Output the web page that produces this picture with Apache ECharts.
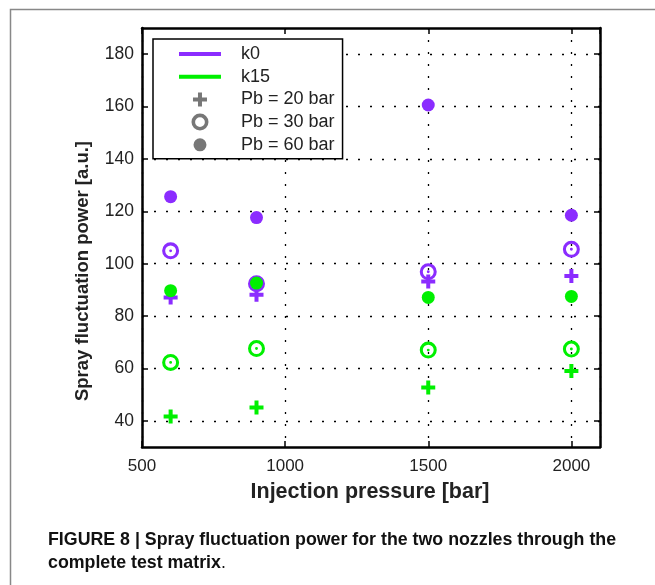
<!DOCTYPE html>
<html>
<head>
<meta charset="utf-8">
<script src="https://cdn.jsdelivr.net/npm/echarts@6/dist/echarts.min.js"></script>
<style>
  html, body { margin: 0; padding: 0; background: #fff; }
  #main { width: 655px; height: 585px; }
</style>
</head>
<body>
<div id="main"></div>
<script>
// injection pressures of the test matrix
var pressures = [600, 900, 1500, 2000]

// nozzle k0
var k0Pb20 = [87.1, 88.1, 93.2, 95.3]
var k0Pb30 = [104.9, 92.3, 96.9, 105.5]
var k0Pb60 = [125.6, 117.6, 160.6, 118.5]

// nozzle k15
var k15Pb20 = [41.6, 45.1, 52.7, 59.0]
var k15Pb30 = [62.3, 67.6, 67.0, 67.4]
var k15Pb60 = [89.7, 92.6, 87.1, 87.5]

var yTicks = [40, 60, 80, 100, 120, 140, 160, 180]

var purple = '#8b2cff'
var green = '#00f000'
var gray = '#555'

var plusSym = 'path://M5,0h4v5h5v4h-5v5h-4v-5h-5v-4h5z'
var ringSym = 'path://M0,10A10,10,0,1,1,20,10A10,10,0,1,1,0,10ZM3.6,10A6.4,6.4,0,1,0,16.4,10A6.4,6.4,0,1,0,3.6,10ZM8.3,10A1.7,1.7,0,1,1,11.7,10A1.7,1.7,0,1,1,8.3,10Z'

// legend icons: 57x17 box (corner specks), mark centred at x=21, rest is text gap
var box = 'M0,0h0.01v0.01zM57,17h0.01v0.01z'
var lineIcon = 'path://' + box + 'M0,6.5h42v4h-42z'
var plusIcon = 'path://' + box + 'M19,1.5h4v5h5v4h-5v5h-4v-5h-5v-4h5z'
var ringIcon = 'path://' + box + 'M12.5,8.5A8.5,8.5,0,1,1,29.5,8.5A8.5,8.5,0,1,1,12.5,8.5ZM16.1,8.5A4.9,4.9,0,1,0,25.9,8.5A4.9,4.9,0,1,0,16.1,8.5Z'
var dotIcon = 'path://' + box + 'M14.5,8.5A6.5,6.5,0,1,1,27.5,8.5A6.5,6.5,0,1,1,14.5,8.5Z'

function pairs(vals) {
  return pressures.map(function(p, i) { return [p, vals[i]] })
}

function markSeries(name, vals, color, symbol, size) {
  return {
    name: name,
    type: 'scatter',
    data: pairs(vals),
    symbol: symbol,
    symbolSize: size,
    itemStyle: { color: color, opacity: 1 },
    emphasis: { disabled: true }
  }
}

var font = 'Liberation Sans'
var gridLine = { show: true, lineStyle: { color: '#000', type: [2, 10], width: 1.3 } }
var frameLine = { show: true, onZero: false, lineStyle: { color: '#000', width: 2.5 } }
var inTick = { show: true, inside: true, length: 6, lineStyle: { color: '#000', width: 1.5 } }

var myChart = echarts.init(document.getElementById('main'))
var option = {
  animation: false,
  backgroundColor: '#fff',
  grid: { left: 142, right: 55, top: 28, bottom: 138 },
  legend: {
    orient: 'vertical',
    left: 153,
    top: 39,
    padding: [6, 8, 5, 26],
    itemWidth: 57,
    itemHeight: 17,
    itemGap: 4.7,
    backgroundColor: '#fff',
    borderColor: '#000',
    borderWidth: 1.5,
    selectedMode: false,
    textStyle: { fontFamily: font, fontSize: 18, color: '#222', lineHeight: 17 },
    data: [
      { name: 'k0', icon: lineIcon },
      { name: 'k15', icon: lineIcon },
      { name: 'Pb = 20 bar', icon: plusIcon },
      { name: 'Pb = 30 bar', icon: ringIcon },
      { name: 'Pb = 60 bar', icon: dotIcon }
    ]
  },
  xAxis: [
    {
      type: 'value',
      min: 500,
      max: 2100,
      interval: 500,
      axisLine: frameLine,
      axisTick: inTick,
      splitLine: gridLine,
      axisLabel: {
        showMaxLabel: false, margin: 11, fontFamily: font, fontSize: 17, color: '#222',
        formatter: function(v) { return String(v) }
      }
    },
    {
      type: 'value',
      position: 'top',
      min: 500,
      max: 2100,
      interval: 500,
      axisLine: frameLine,
      axisTick: inTick,
      splitLine: { show: false },
      axisLabel: { show: false }
    }
  ],
  yAxis: [
    {
      type: 'value',
      min: 30,
      max: 190,
      axisLine: frameLine,
      axisTick: Object.assign({ customValues: yTicks }, inTick),
      splitLine: gridLine,
      axisLabel: { customValues: yTicks, margin: 8, fontFamily: font, fontSize: 17.5, color: '#222' }
    },
    {
      type: 'value',
      position: 'right',
      min: 30,
      max: 190,
      axisLine: frameLine,
      axisTick: Object.assign({ customValues: yTicks }, inTick),
      splitLine: { show: false },
      axisLabel: { show: false }
    }
  ],
  graphic: [
    {
      type: 'rect',
      z: -10,
      shape: { x: 10.5, y: 9.5, width: 700, height: 700 },
      style: { fill: null, stroke: '#888', lineWidth: 1.5 }
    },
    {
      type: 'text',
      x: 370,
      y: 492,
      style: {
        text: 'Injection pressure [bar]',
        fontFamily: font, fontSize: 21.5, fontWeight: 'bold', fill: '#222',
        align: 'center', verticalAlign: 'middle'
      }
    },
    {
      type: 'text',
      x: 83,
      y: 271,
      rotation: Math.PI / 2,
      style: {
        text: 'Spray fluctuation power [a.u.]',
        fontFamily: font, fontSize: 18.5, fontWeight: 'bold', fill: '#222',
        align: 'center', verticalAlign: 'middle'
      }
    },
    {
      type: 'text',
      left: 48,
      top: 531,
      style: {
        text: '{b|FIGURE 8 | Spray fluctuation power for the two nozzles through the}\n{b|complete test matrix}{r|.}',
        rich: {
          b: { fontFamily: font, fontSize: 17.8, fontWeight: 'bold', fill: '#111', lineHeight: 23 },
          r: { fontFamily: font, fontSize: 17.8, fill: '#111', lineHeight: 23 }
        }
      }
    }
  ],
  series: [
    // legend-only entries
    { name: 'k0', type: 'line', data: [], symbol: 'none', lineStyle: { color: purple, width: 4 }, itemStyle: { color: purple } },
    { name: 'k15', type: 'line', data: [], symbol: 'none', lineStyle: { color: green, width: 4 }, itemStyle: { color: green } },
    { name: 'Pb = 20 bar', type: 'scatter', data: [], itemStyle: { color: gray } },
    { name: 'Pb = 30 bar', type: 'scatter', data: [], itemStyle: { color: gray } },
    { name: 'Pb = 60 bar', type: 'scatter', data: [], itemStyle: { color: gray } },
    // measured points
    markSeries('k0 20', k0Pb20, purple, plusSym, 14),
    markSeries('k0 30', k0Pb30, purple, ringSym, 17),
    markSeries('k0 60', k0Pb60, purple, 'circle', 13),
    markSeries('k15 20', k15Pb20, green, plusSym, 14),
    markSeries('k15 30', k15Pb30, green, ringSym, 17),
    markSeries('k15 60', k15Pb60, green, 'circle', 13)
  ]
}
myChart.setOption(option)
</script>
</body>
</html>
